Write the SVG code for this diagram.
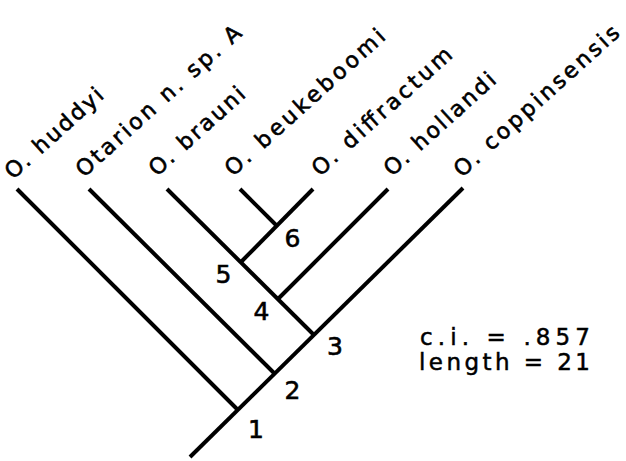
<svg xmlns="http://www.w3.org/2000/svg" width="626" height="461" viewBox="0 0 626 461">
<style>
.br{fill:none;stroke:#000;stroke-width:4;stroke-linecap:butt;stroke-linejoin:miter}
.lab{font-family:"DejaVu Sans","Liberation Sans",sans-serif;font-size:22px;fill:#000;stroke:#000;stroke-width:0.6}
.num{font-family:"DejaVu Sans","Liberation Sans",sans-serif;font-size:25px;fill:#000;stroke:#000;stroke-width:0.6;text-anchor:middle}
.stat{font-family:"DejaVu Sans","Liberation Sans",sans-serif;font-size:23px;fill:#000;stroke:#000;stroke-width:0.5}
</style>
<rect width="626" height="461" fill="#fff"/>
<g id="connectors">
<path class="br" d="M190,457 L463,188"/>
<path class="br" d="M17,189 L238,410"/>
<path class="br" d="M89,189 L275,374"/>
<path class="br" d="M167,189 L314,335"/>
<path class="br" d="M240,189 L276.5,225.5"/>
<path class="br" d="M313,189 L240.5,262.5"/>
<path class="br" d="M388,189 L277.5,299.5"/>
</g>
<g id="taxon-huddyi"><text class="lab" transform="translate(13,180) rotate(-42)" textLength="124" lengthAdjust="spacing">O. huddyi</text></g>
<g id="taxon-otarion"><text class="lab" transform="translate(84,178) rotate(-42)" textLength="214" lengthAdjust="spacing">Otarion n. sp. A</text></g>
<g id="taxon-brauni"><text class="lab" transform="translate(157,177) rotate(-42)" textLength="121" lengthAdjust="spacing">O. brauni</text></g>
<g id="taxon-beukeboomi"><text class="lab" transform="translate(233,177) rotate(-42)" textLength="207" lengthAdjust="spacing">O. beukeboomi</text></g>
<g id="taxon-diffractum"><text class="lab" transform="translate(320,177) rotate(-42)" textLength="180" lengthAdjust="spacing">O. diffractum</text></g>
<g id="taxon-hollandi"><text class="lab" transform="translate(392,177) rotate(-42)" textLength="142" lengthAdjust="spacing">O. hollandi</text></g>
<g id="taxon-coppinsensis"><text class="lab" transform="translate(462,178) rotate(-42)" textLength="214" lengthAdjust="spacing">O. coppinsensis</text></g>
<g id="node1"><text class="num" x="256" y="438">1</text></g>
<g id="node2"><text class="num" x="292.5" y="399">2</text></g>
<g id="node3"><text class="num" x="335" y="355">3</text></g>
<g id="node4"><text class="num" x="261.5" y="320">4</text></g>
<g id="node5"><text class="num" x="223.5" y="283">5</text></g>
<g id="node6"><text class="num" x="292.5" y="247">6</text></g>
<g id="stats">
<text class="stat" x="420" y="345" textLength="170" lengthAdjust="spacing">c.i. = .857</text>
<text class="stat" x="419" y="370" textLength="171" lengthAdjust="spacing">length = 21</text>
</g>
</svg>
